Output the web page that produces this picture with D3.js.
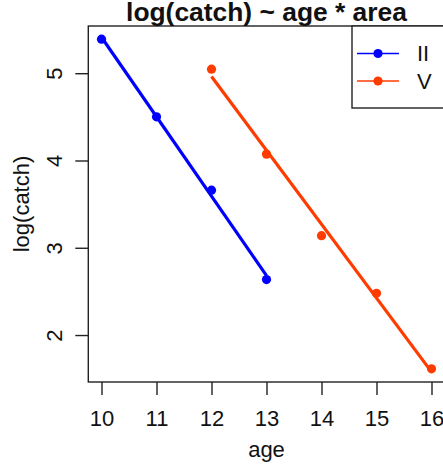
<!DOCTYPE html>
<html>
<head>
<meta charset="utf-8">
<script src="https://cdn.jsdelivr.net/npm/d3@7"></script>
<style>
  html, body { margin: 0; padding: 0; background: #fff; }
  svg { display: block; font-family: "Liberation Sans", Arial, Helvetica, sans-serif; }
</style>
</head>
<body>
<svg id="chart" width="443" height="472"></svg>
<script>
// log(catch) by age for two areas
const areas = ["II", "V"];
const colors = ["#0000ff", "#ff3c00"];
const agesII = [10, 11, 12, 13];
const logCatchII = [5.39, 4.50, 3.66, 2.635];
const agesV = [12, 13, 14, 15, 16];
const logCatchV = [5.046, 4.073, 3.138, 2.479, 1.613];
const xTicks = [10, 11, 12, 13, 14, 15, 16];
const yTicks = [2, 3, 4, 5];

const series = [
  { name: areas[0], color: colors[0], x: agesII, y: logCatchII },
  { name: areas[1], color: colors[1], x: agesV, y: logCatchV }
];

const svg = d3.select("#chart");
const plot = { left: 88.3, right: 444.7, top: 26, bottom: 382 };

// extend data ranges by 4% on each side
function padded(vals) {
  const [a, b] = d3.extent(vals);
  const p = (b - a) * 0.04;
  return [a - p, b + p];
}
const allX = agesII.concat(agesV);
const allY = logCatchII.concat(logCatchV);
const x = d3.scaleLinear().domain(padded(allX)).range([plot.left, plot.right]);
const y = d3.scaleLinear().domain(padded(allY)).range([plot.bottom, plot.top]);

// least squares fit per area
function fit(xs, ys) {
  const mx = d3.mean(xs), my = d3.mean(ys);
  let sxy = 0, sxx = 0;
  xs.forEach((v, i) => { sxy += (v - mx) * (ys[i] - my); sxx += (v - mx) * (v - mx); });
  const b = sxy / sxx;
  return v => my + b * (v - mx);
}

// fitted lines
series.forEach(s => {
  const f = fit(s.x, s.y);
  const x0 = d3.min(s.x), x1 = d3.max(s.x);
  svg.append("line")
    .attr("x1", x(x0)).attr("y1", y(f(x0)))
    .attr("x2", x(x1)).attr("y2", y(f(x1)))
    .attr("stroke", s.color).attr("stroke-width", 3.2);
});

// observed points
series.forEach(s => {
  svg.append("g").selectAll("circle")
    .data(s.x.map((v, i) => [v, s.y[i]]))
    .join("circle")
    .attr("cx", d => x(d[0])).attr("cy", d => y(d[1]))
    .attr("r", 4.6).attr("fill", s.color);
});

// plot frame
svg.append("rect")
  .attr("x", plot.left).attr("y", plot.top)
  .attr("width", plot.right - plot.left).attr("height", plot.bottom - plot.top)
  .attr("fill", "none").attr("stroke", "#222").attr("stroke-width", 1.4);

// x axis
const xAxis = svg.append("g")
  .attr("transform", `translate(0,${plot.bottom})`)
  .call(d3.axisBottom(x).tickValues(xTicks).tickSize(13).tickSizeOuter(0).tickFormat(d3.format("d")));
xAxis.select(".domain").remove();
xAxis.selectAll("line").attr("stroke", "#222").attr("stroke-width", 1.4);
xAxis.selectAll("text")
  .attr("y", 43.5).attr("dy", null)
  .attr("font-size", 22).attr("fill", "#111");

// y axis
const yAxis = svg.append("g")
  .attr("transform", `translate(${plot.left},0)`)
  .call(d3.axisLeft(y).tickValues(yTicks).tickSize(13).tickSizeOuter(0).tickFormat(d3.format("d")));
yAxis.select(".domain").remove();
yAxis.selectAll("line").attr("stroke", "#222").attr("stroke-width", 1.4);
yAxis.selectAll("text")
  .attr("x", null).attr("dy", null)
  .attr("text-anchor", "middle")
  .attr("transform", "translate(-26,0) rotate(-90)")
  .attr("font-size", 22).attr("fill", "#111");

// titles
svg.append("text")
  .attr("x", (88.3 + 444.7) / 2).attr("y", 21)
  .attr("text-anchor", "middle").attr("font-size", 26.4).attr("font-weight", "bold")
  .attr("fill", "#111")
  .text("log(catch) ~ age * area");
svg.append("text")
  .attr("x", (88.3 + 444.7) / 2).attr("y", 456.5)
  .attr("text-anchor", "middle").attr("font-size", 22).attr("fill", "#111")
  .text("age");
svg.append("text")
  .attr("transform", `translate(29,${(plot.top + plot.bottom) / 2}) rotate(-90)`)
  .attr("text-anchor", "middle").attr("font-size", 22).attr("fill", "#111")
  .text("log(catch)");

// legend
const leg = svg.append("g");
leg.append("rect")
  .attr("x", 352).attr("y", plot.top)
  .attr("width", plot.right - 352).attr("height", 108 - plot.top)
  .attr("fill", "#fff").attr("stroke", "#222").attr("stroke-width", 1.4);
series.forEach((s, i) => {
  const ly = 53.5 + i * 27.5;
  leg.append("line").attr("x1", 357).attr("x2", 399).attr("y1", ly).attr("y2", ly)
    .attr("stroke", s.color).attr("stroke-width", 1.5);
  leg.append("circle").attr("cx", 378).attr("cy", ly).attr("r", 4.6).attr("fill", s.color);
  leg.append("text").attr("x", 417).attr("y", ly + 7.6)
    .attr("font-size", 22).attr("fill", "#111").text(s.name);
});
</script>
</body>
</html>
